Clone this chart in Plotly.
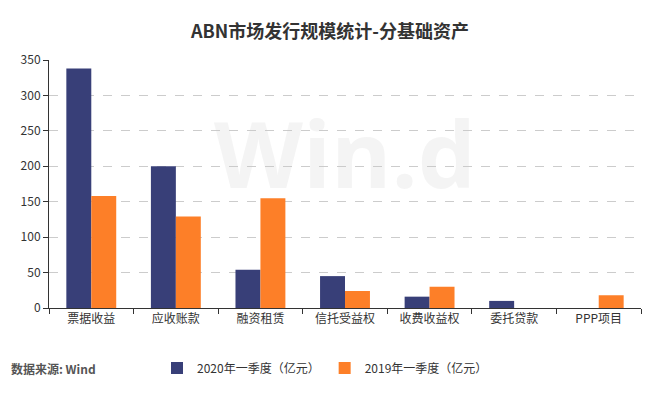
import plotly.graph_objects as go

categories = ["票据收益", "应收账款", "融资租赁", "信托受益权", "收费收益权", "委托贷款", "PPP项目"]
series_2020 = [338, 200, 54, 45, 16, 10, 0]
series_2019 = [158, 129, 155, 24, 30, 0, 18]
name_2020 = "2020年一季度（亿元）"
name_2019 = "2019年一季度（亿元）"
y_ticks = [0, 50, 100, 150, 200, 250, 300, 350]

FONT = "Noto Sans CJK SC"
NAVY = "#383f78"
ORANGE = "#fd7f28"

L, R, T, B = 49, 19, 60, 92
PW, PH = 660 - L - R, 400 - T - B

def px_x(x):
    return (x - L) / PW

def px_y(y):
    return (400 - B - y) / PH

fig = go.Figure()
fig.add_trace(go.Bar(x=categories, y=series_2020, name=name_2020, marker=dict(color=NAVY, line=dict(width=0))))
fig.add_trace(go.Bar(x=categories, y=series_2019, name=name_2019, marker=dict(color=ORANGE, line=dict(width=0))))

fig.update_layout(
    width=660, height=400,
    margin=dict(l=L, r=R, t=T, b=B),
    paper_bgcolor="white", plot_bgcolor="white",
    font=dict(family=FONT, size=12, color="#333333"),
    barmode="group", bargap=0.41, bargroupgap=0,
    title=dict(text="<b>ABN市场发行规模统计-分基础资产</b>", x=0.5, xanchor="center", xref="container",
               y=1 - 32 / 400, yref="container", yanchor="middle",
               font=dict(family=FONT, size=18, color="#333333")),
    legend=dict(orientation="h", x=px_x(157), xanchor="left", y=px_y(368), yanchor="middle",
                font=dict(family=FONT, size=12, color="#333333"), traceorder="normal"),
    showlegend=True,
)
fig.update_xaxes(
    showline=True, linecolor="#333333", linewidth=1,
    ticks="outside", tickson="boundaries", ticklen=5, tickcolor="#333333",
    showgrid=False, tickfont=dict(size=12, color="#333333"),
)
fig.update_yaxes(
    range=[0, 350], tickvals=y_ticks,
    showline=True, linecolor="#333333", linewidth=1,
    ticks="outside", ticklen=5, tickcolor="#333333",
    showgrid=True, gridcolor="#cccccc", griddash="dash", gridwidth=1,
    zeroline=False, tickfont=dict(size=12, color="#333333"),
)

# watermark
fig.add_annotation(text="<b>Win.d</b>", x=px_x(345), y=px_y(152), xref="paper", yref="paper",
                   showarrow=False, font=dict(family="Open Sans", size=92, color="rgba(200,200,200,0.2)"),
                   xanchor="center", yanchor="middle")
# source
fig.add_annotation(text="<b>数据来源: Wind</b>", x=px_x(9), y=px_y(368), xref="paper", yref="paper",
                   showarrow=False, xanchor="left", yanchor="middle",
                   font=dict(family=FONT, size=12, color="#555555"))

fig.write_html("out.html")
